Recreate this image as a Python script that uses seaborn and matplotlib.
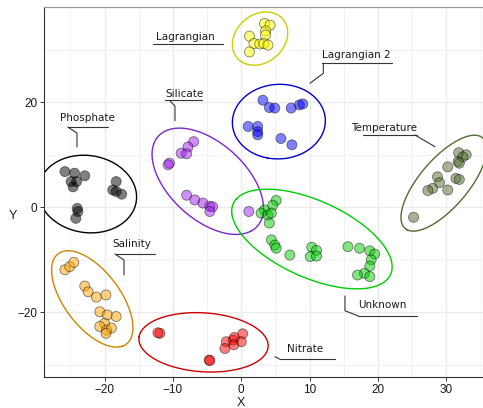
import numpy as np
import pandas as pd
import matplotlib
matplotlib.use("Agg")
import matplotlib.pyplot as plt
import seaborn as sns

# ---- cluster coordinates -------------------------------------------------
lagrangian_x = [3.4, 4.2, 3.55, 3.55, 1.2, 1.85, 2.7, 3.3, 3.9, 1.2]
lagrangian_y = [35.0, 34.7, 33.6, 32.8, 32.6, 31.2, 31.1, 31.2, 30.9, 29.6]

lagrangian2_x = [3.16, 4.1, 4.9, 7.3, 8.5, 9.0, 1.0, 2.4, 2.4, 2.4, 5.8, 7.4]
lagrangian2_y = [20.4, 19.0, 18.9, 18.9, 19.5, 19.7, 15.4, 15.4, 14.4, 13.8, 13.1, 11.9]

silicate_x = [-6.97, -7.8, -8.8, -8.0, -10.5, -10.7, -8.0, -6.8, -5.6, -4.6, -4.2, -4.6, 1.1]
silicate_y = [12.5, 11.5, 10.3, 10.2, 8.4, 8.1, 2.3, 1.4, 0.8, 0.2, 0.1, -0.8, -0.8]

phosphate_x = [-25.8, -24.4, -22.9, -24.9, -24.1, -24.6, -18.3, -18.8, -17.5, -18.3, -24.0, -23.9, -24.2]
phosphate_y = [6.8, 6.5, 6.0, 4.9, 4.9, 3.9, 4.9, 3.3, 2.5, 3.0, -0.2, -0.8, -2.1]

salinity_x = [-25.8, -25.1, -24.5, -22.9, -22.4, -21.2, -19.8, -20.7, -19.6, -18.3, -20.0, -20.7, -19.7, -19.0, -19.8]
salinity_y = [-11.9, -11.3, -10.5, -15.0, -16.1, -17.1, -16.7, -19.9, -20.5, -20.8, -22.1, -22.7, -23.4, -23.0, -24.0]

nitrate_x = [-11.9, -12.2, -4.7, -4.6, -2.2, -1.2, -1.0, 0.2, 0.0, -2.4, -1.1]
nitrate_y = [-24.0, -23.9, -29.1, -29.2, -25.6, -25.3, -24.8, -24.1, -25.6, -26.9, -26.2]

unknown_x = [5.1, 4.6, 3.4, 2.9, 3.9, 4.4, 4.1, 4.4, 4.9, 5.1, 7.1, 10.3, 11.0, 10.1, 11.0,
             15.6, 17.3, 18.8, 19.5, 19.0, 18.8, 18.0, 17.0, 18.8]
unknown_y = [1.3, 0.4, -0.5, -1.1, -1.5, -1.1, -3.0, -6.2, -7.2, -7.8, -9.1, -7.6, -8.2, -9.4, -9.3,
             -7.5, -7.8, -8.3, -8.9, -10.0, -11.2, -12.6, -12.9, -13.2]

temperature_x = [31.8, 32.9, 32.4, 31.7, 31.9, 30.2, 28.7, 31.4, 31.9, 29.0, 28.0, 27.3, 30.2, 25.2]
temperature_y = [10.4, 10.0, 9.6, 8.7, 8.4, 7.7, 5.8, 5.5, 5.3, 4.7, 3.6, 3.2, 3.3, -1.9]

groups = ["Lagrangian", "Lagrangian 2", "Silicate", "Phosphate",
          "Salinity", "Nitrate", "Unknown", "Temperature"]
xs = [lagrangian_x, lagrangian2_x, silicate_x, phosphate_x,
      salinity_x, nitrate_x, unknown_x, temperature_x]
ys = [lagrangian_y, lagrangian2_y, silicate_y, phosphate_y,
      salinity_y, nitrate_y, unknown_y, temperature_y]

fill_colors = {
    "Lagrangian": "#FFFF00", "Lagrangian 2": "#0000FF", "Silicate": "#A020F0",
    "Phosphate": "#000000", "Salinity": "#FFA500", "Nitrate": "#FF0000",
    "Unknown": "#00CD00", "Temperature": "#556B2F",
}
line_colors = {
    "Lagrangian": "#CDCD00", "Lagrangian 2": "#0000CD", "Silicate": "#7D26CD",
    "Phosphate": "#000000", "Salinity": "#CD8500", "Nitrate": "#CD0000",
    "Unknown": "#00CD00", "Temperature": "#556B2F",
}

df = pd.DataFrame({
    "X": np.concatenate(xs),
    "Y": np.concatenate(ys),
    "group": np.concatenate([[g] * len(x) for g, x in zip(groups, xs)]),
})

# ---- label annotations: text anchor, underline, leader path ---------------
labels = [
    ("Phosphate", (-26.53, 16.50), (-25.40, -19.46, 15.30),
     [(-25.40, 15.30), (-24.04, 14.15), (-24.04, 11.49)]),
    ("Lagrangian", (-12.52, 31.87), (-12.96, -2.72, 31.05), []),
    ("Silicate", (-11.16, 21.07), (-11.16, -5.79, 20.44),
     [(-10.43, 20.25), (-9.70, 19.30), (-9.70, 16.50)]),
    ("Lagrangian 2", (11.76, 28.50), (11.76, 22.00, 27.43),
     [(12.00, 27.43), (12.00, 25.52), (10.05, 23.62)]),
    ("Temperature", (16.01, 14.59), (17.85, 25.66, 13.77),
     [(25.41, 13.77), (28.34, 11.54)]),
    ("Salinity", (-18.81, -7.50), (-18.48, -12.63, -8.90),
     [(-18.48, -8.90), (-17.16, -10.04), (-17.16, -12.90)]),
    ("Unknown", (17.12, -19.24), (17.12, 25.66, -20.70),
     [(17.12, -20.70), (15.17, -19.70), (15.17, -16.90)]),
    ("Nitrate", (6.64, -27.50), (5.66, 13.71, -28.95),
     [(4.93, -28.46), (5.66, -28.95)]),
]


def enclosing_ellipse(P, tol=0.01):
    """Khachiyan iteration for an enclosing ellipse of the points P (n x 2)."""
    n, d = P.shape
    Q = np.vstack([P.T, np.ones(n)])
    u = np.ones(n) / n
    err = 1.0
    while err > tol:
        Xm = Q @ np.diag(u) @ Q.T
        M = np.einsum("ij,ji->i", Q.T @ np.linalg.inv(Xm), Q)
        j = np.argmax(M)
        step = (M[j] - d - 1.0) / ((d + 1.0) * (M[j] - 1.0))
        new_u = (1 - step) * u
        new_u[j] += step
        err = np.linalg.norm(new_u - u)
        u = new_u
    c = P.T @ u
    A = np.linalg.inv(P.T @ np.diag(u) @ P - np.outer(c, c)) / d
    return c, A


# ---- figure ---------------------------------------------------------------
sns.set_theme(style="white")
plt.rcParams["font.family"] = ["DejaVu Sans"]

fig = plt.figure(figsize=(4.83, 4.08), dpi=100)
ax = fig.add_axes([0.0917, 0.0767, 0.9083, 0.9061])
ax.set_xlim(-28.82, 35.36)
ax.set_ylim(-32.27, 38.15)

ax.set_xticks([-20, -10, 0, 10, 20, 30])
ax.set_xticks(np.arange(-25, 36, 10), minor=True)
ax.set_yticks([-20, 0, 20])
ax.set_yticks([-30, -10, 10, 30], minor=True)
ax.grid(True, which="major", color="#EBEBEB", linewidth=1.0, zorder=0)
ax.grid(True, which="minor", color="#F2F2F2", linewidth=0.7, zorder=0)
ax.set_axisbelow(True)

for side in ["left", "bottom"]:
    ax.spines[side].set_color("#333333")
    ax.spines[side].set_linewidth(0.8)
ax.spines["top"].set_color("#9A9A9A")
ax.spines["top"].set_linewidth(0.9)
ax.spines["right"].set_visible(False)

ax.tick_params(axis="both", which="major", direction="out", length=3, width=0.7,
               color="#333333", labelsize=8.5, labelcolor="#1A1A1A", pad=2,
               bottom=True, left=True)
ax.tick_params(axis="both", which="minor", length=0)
for lab in ax.get_xticklabels() + ax.get_yticklabels():
    lab.set_family("Liberation Sans")

# enclosing ellipses, grown by a fixed margin in data units
expand = 2.25
t = np.linspace(0, 2 * np.pi, 200)
for g, x, y in zip(groups, xs, ys):
    pts = np.column_stack([x, y])
    c, A = enclosing_ellipse(pts)
    w, V = np.linalg.eigh(A)
    semi = 1.0 / np.sqrt(w) + expand
    ring = c[:, None] + V @ (semi[:, None] * np.vstack([np.cos(t), np.sin(t)]))
    ax.plot(ring[0], ring[1], color=line_colors[g], lw=1.0, zorder=2)

sns.scatterplot(data=df, x="X", y="Y", hue="group", palette=fill_colors,
                s=52, alpha=0.5, edgecolor="black", linewidth=0.6,
                legend=False, ax=ax, zorder=3)

for name, (tx, ty), (u0, u1, uy), path in labels:
    ax.text(tx, ty, name, fontsize=7.5, color="#1A1A1A", ha="left",
            va="baseline", family="DejaVu Sans", zorder=4)
    ax.plot([u0, u1], [uy, uy], color="#333333", lw=0.8, zorder=4)
    if path:
        px, py = zip(*path)
        ax.plot(px, py, color="#333333", lw=0.8, zorder=4)

ax.set_xlabel("")
ax.set_ylabel("")
fig.text(241 / 483, 1 - 402.7 / 408, "X", ha="center", va="center",
         fontsize=9, family="Liberation Sans", color="#1A1A1A")
fig.text(12.7 / 483, 1 - 216 / 408, "Y", ha="center", va="center",
         fontsize=9, family="Liberation Sans", color="#1A1A1A")

fig.savefig("out.png", dpi=100)
